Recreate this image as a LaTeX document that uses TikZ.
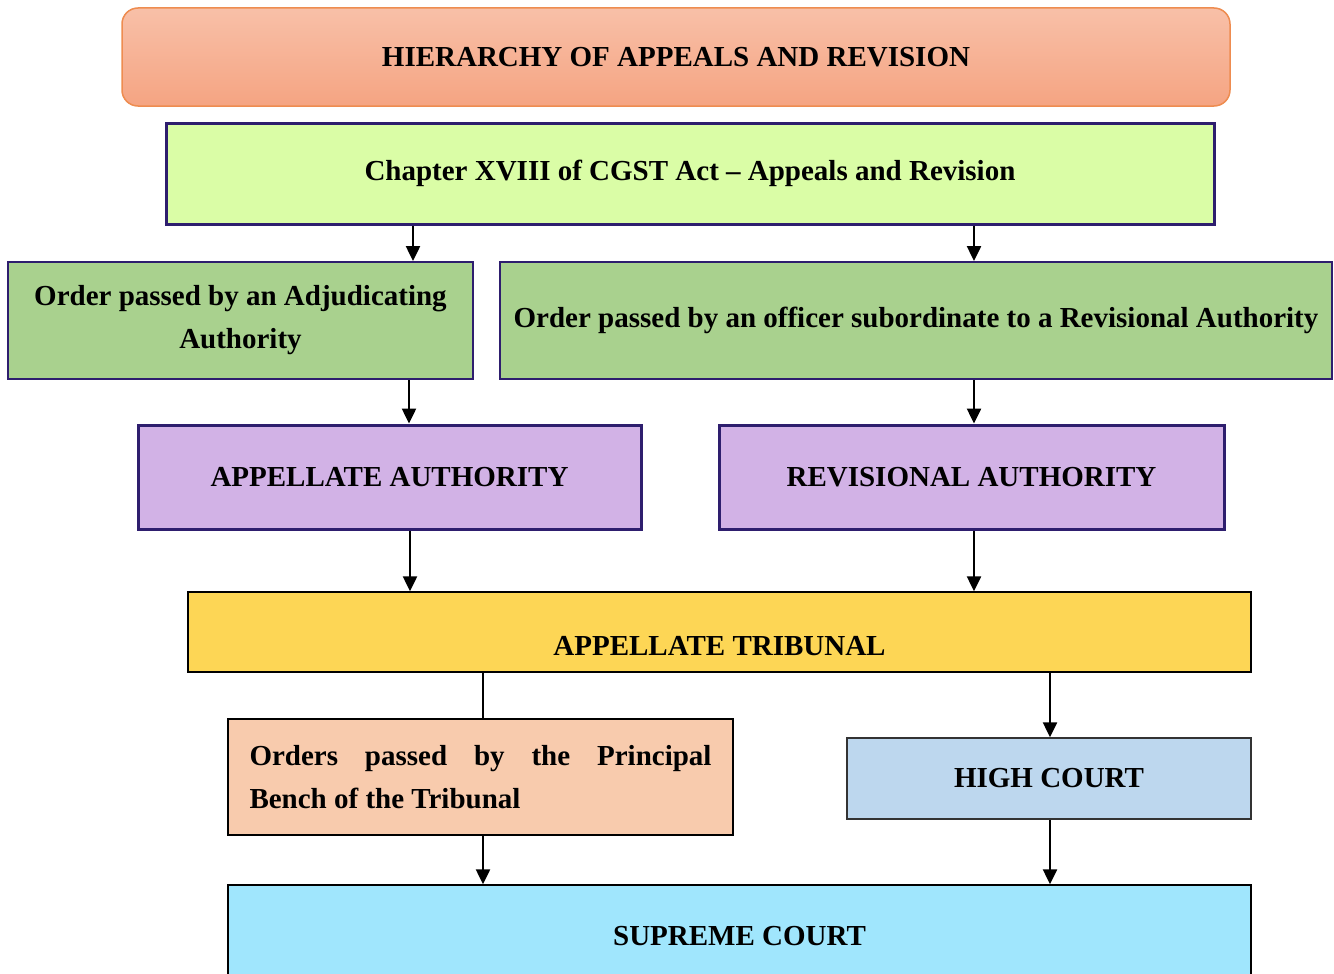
\documentclass[tikz,border=0pt]{standalone}
\usepackage{fontspec}
\setmainfont{Liberation Serif}
\definecolor{titletop}{RGB}{248, 192, 168}
\definecolor{titlebot}{RGB}{245, 164, 130}
\definecolor{titleline}{RGB}{238, 140, 80}
\definecolor{navyline}{RGB}{46, 30, 110}
\definecolor{limefill}{RGB}{218, 253, 166}
\definecolor{greenfill}{RGB}{169, 209, 142}
\definecolor{lilacfill}{RGB}{210, 178, 230}
\definecolor{goldfill}{RGB}{253, 214, 85}
\definecolor{peachfill}{RGB}{248, 203, 173}
\definecolor{steelfill}{RGB}{189, 215, 238}
\definecolor{skyfill}{RGB}{160, 230, 253}
\usepackage{tikz}
\usetikzlibrary{arrows.meta, positioning, calc}

\tikzset{
    box/.style={draw, inner sep=2pt, font=\fontsize{29}{43}\selectfont\bfseries},
    arr/.style={line width=2.5pt, -{Triangle[length=15pt, width=14pt]}},
    link/.style={line width=2.5pt}
}

\begin{document}
\begin{tikzpicture}[x=1pt, y=-1pt]
                    \clip (0, 0) rectangle (1334, 974);
                    \fill[white] (0, 0) rectangle (1334, 974);
                    % Title
                    \node[box, draw=titleline, line width=1.5pt, top color=titletop, bottom color=titlebot,
                          rounded corners=16pt, minimum width=1108pt, minimum height=98pt] (title) at (676, 57)
                          {HIERARCHY OF APPEALS AND REVISION};
                    
                    % Chapter
                    \node[box, draw=navyline, line width=3pt, fill=limefill,
                          minimum width=1048pt, minimum height=101pt] (chapter) at (690, 173.5)
                          {Chapter XVIII of CGST Act -- Appeals and Revision};
                    
                    % Orders
                    \node[box, draw=navyline, line width=2pt, fill=greenfill, align=center,
                          minimum width=465pt, minimum height=117pt] (adjud) at (240.5, 320.5)
                          {Order passed by an Adjudicating\\Authority};
                    \node[box, draw=navyline, line width=2pt, fill=greenfill,
                          minimum width=832pt, minimum height=117pt] (officer) at (916, 320.5)
                          {Order passed by an officer subordinate to a Revisional Authority};
                    
                    % Authorities
                    \node[box, draw=navyline, line width=3pt, fill=lilacfill,
                          minimum width=503pt, minimum height=104pt] (appellate) at (389.5, 477)
                          {APPELLATE AUTHORITY};
                    \node[box, draw=navyline, line width=3pt, fill=lilacfill,
                          minimum width=505pt, minimum height=104pt] (revisional) at (971.5, 477)
                          {REVISIONAL AUTHORITY};
                    
                    % Tribunal
                    \node[box, line width=1.5pt, fill=goldfill, text height=52pt, text depth=6pt,
                          minimum width=1063pt, minimum height=80pt] (tribunal) at (719.5, 632)
                          {APPELLATE TRIBUNAL};
                    \node[box, line width=2.5pt, fill=peachfill, text width=462pt, align=justify,
                          minimum width=505pt, minimum height=116pt] (bench) at (480.5, 777)
                          {Orders passed by the Principal\linebreak Bench of the Tribunal};
                    \node[box, draw=black!80, line width=1.5pt, fill=steelfill,
                          minimum width=404pt, minimum height=81pt] (highcourt) at (1049, 778.5)
                          {HIGH COURT};
                    
                    % Supreme court
                    \node[box, line width=1.5pt, fill=skyfill,
                          minimum width=1023pt, minimum height=102pt] (supreme) at (739.5, 936)
                          {SUPREME COURT};
                    
                    % Arrows
                    \draw[arr] (chapter.south -| 413, 0) -- (adjud.north -| 413, 0);
                    \draw[arr] (chapter.south -| 974, 0) -- (officer.north -| 974, 0);
                    \draw[arr] (adjud.south -| 409, 0) -- (appellate.north -| 409, 0);
                    \draw[arr] (officer.south -| 974, 0) -- (revisional.north -| 974, 0);
                    \draw[arr] (appellate.south -| 410, 0) -- (tribunal.north -| 410, 0);
                    \draw[arr] (revisional.south -| 974, 0) -- (tribunal.north -| 974, 0);
                    \draw[link] (tribunal.south -| 483, 0) -- (bench.north -| 483, 0);
                    \draw[arr] (tribunal.south -| 1050, 0) -- (highcourt.north -| 1050, 0);
                    \draw[arr] (bench.south -| 483, 0) -- (supreme.north -| 483, 0);
                    \draw[arr] (highcourt.south -| 1050, 0) -- (supreme.north -| 1050, 0);
                \end{tikzpicture}
\end{document}
